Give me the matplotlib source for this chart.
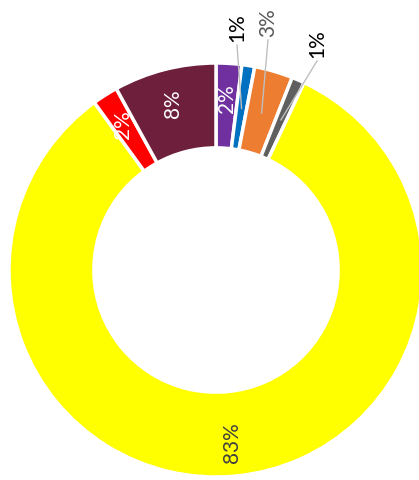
import numpy as np
import matplotlib.pyplot as plt

# share of each category, clockwise from 12 o'clock
labels = ['Purple', 'Blue', 'Orange', 'Gray', 'Yellow', 'Red', 'Maroon']
values = [2, 1, 3, 1, 83, 2, 8]
colors = ['#7030A0', '#0070C0', '#ED7D31', '#5F5F5F', '#FFFF00', '#FF0000', '#6D1F3C']
# how each percentage is written: inside the ring or pulled out with a leader
inside = [True, False, False, False, True, True, True]
text_colors = ['white', 'black', '#595959', 'black', '#404040', 'white', 'white']

W, H = 419, 481
cx, cy, R = 216, 271, 207
ring = 0.41

fig = plt.figure(figsize=(W / 100, H / 100), dpi=100)
ax = fig.add_axes([0, 0, 1, 1])

wedges, _ = ax.pie(values, colors=colors, startangle=90, counterclock=False,
                   center=(cx, H - cy), radius=R,
                   wedgeprops=dict(width=R * ring, edgecolor='white', linewidth=2.5))
# pie() resets the limits, so fix them afterwards (1 unit = 1 pixel)
ax.set_xlim(0, W)
ax.set_ylim(0, H)
ax.set_aspect('equal')
ax.axis('off')

total = float(sum(values))
cum = np.cumsum([0] + values)
r_lab = R * 0.835   # labels sit a bit outside the middle of the ring
r_lead = R * 0.79

# outside label positions (text bottom), in pixels from the top-left
outside_pos = {1: (237, 42), 2: (268, 37), 3: (317, 58)}

font = ['Lato', 'DejaVu Sans']
for i, v in enumerate(values):
    ang = np.deg2rad((cum[i] + v / 2) / total * 360)
    txt = f'{v}%'
    if inside[i]:
        mx = cx + np.sin(ang) * r_lab
        my = H - (cy - np.cos(ang) * r_lab)
        ax.text(mx, my, txt, rotation=90, ha='center', va='center',
                color=text_colors[i], fontsize=15, family=font)
    else:
        mx = cx + np.sin(ang) * r_lead
        my = H - (cy - np.cos(ang) * r_lead)
        tx, ty = outside_pos[i]
        ax.text(tx, H - ty, txt, rotation=90, ha='center', va='bottom',
                color=text_colors[i], fontsize=15, family=font)
        ax.plot([tx, mx], [H - ty - 4, my], color='#BFBFBF', linewidth=1, zorder=3)

fig.savefig('out.png', dpi=100)
